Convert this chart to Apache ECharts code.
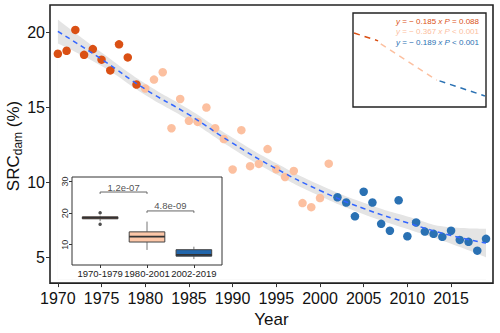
<!DOCTYPE html>
<html><head><meta charset="utf-8">
<script src="https://cdn.jsdelivr.net/npm/echarts@6/dist/echarts.min.js"></script>
<style>html,body{margin:0;padding:0;background:#fff}#c{width:500px;height:333px}</style>
</head><body><div id="c"></div>
<script>
// ---- data ----
const yearsA = [1970,1971,1972,1973,1974,1975,1976,1977,1978,1979];
const srcA   = [18.56,18.76,20.15,18.49,18.87,18.17,17.45,19.19,18.32,16.51];
const yearsB = [1980,1981,1982,1983,1984,1985,1986,1987,1988,1989,1990,1991,1992,1993,1994,1995,1996,1997,1998,1999,2000,2001];
const srcB   = [16.25,16.84,17.33,13.60,15.55,14.09,14.02,14.98,13.60,12.88,10.85,13.47,11.07,11.22,12.21,10.86,10.35,10.75,8.61,8.34,8.95,11.24];
const yearsC = [2002,2003,2004,2005,2006,2007,2008,2009,2010,2011,2012,2013,2014,2015,2016,2017,2018,2019];
const srcC   = [9.00,8.65,7.73,9.37,8.65,7.23,6.77,8.80,6.40,7.32,6.71,6.56,6.36,6.77,6.16,6.03,5.44,6.23];

const trendYears = [1970,1975,1980,1985,1990,1995,2000,2005,2010,2015,2019];
const trendMid   = [20.05,18.2,16.2,14.5,12.6,10.9,9.45,8.25,7.3,6.45,5.95];
const trendHalf  = [0.8,0.45,0.38,0.36,0.36,0.36,0.36,0.38,0.42,0.55,0.95];

const xTickLabels = [1970,1975,1980,1985,1990,1995,2000,2005,2010,2015];
const yTickLabels = [5,10,15,20];

// inset boxplot
const groupNames = ['1970-1979','1980-2001','2002-2019'];
const boxLow  = [17.45, 8.34, 5.44];
const boxQ1   = [18.21,10.85, 6.37];
const boxMed  = [18.53,12.55, 6.77];
const boxQ3   = [18.84,14.07, 8.42];
const boxHigh = [19.19,17.33, 9.37];
const outlierGroup = [1,1];
const outlierValue = [20.15,16.51];
const insetTicks = [10,20,30];
const pLabels = ['1.2e-07','4.8e-09'];
const pFrom = [1,2], pTo = [2,3], pLevel = [26.7,20.7];

// legend (segment fits)
const segYearsA = [1970,1979], segA = [19.1,17.43];
const segYearsB = [1980,2001], segB = [16.76,9.05];
const segYearsC = [2002,2019], segC = [8.9,5.7];
const eqText = [
  ['− 0.185','= 0.088'],
  ['− 0.367','< 0.001'],
  ['− 0.189','< 0.001']
];

// ---- styling ----
const FF = 'Liberation Sans, Arial, Helvetica, sans-serif';
const cA = '#DA5014', cB = '#FCC0A0', cC = '#2A71B3';
const boxFill = ['#9E3A12', '#FDC7A8', '#2166AC'];

const zip = (xs, ys) => xs.map((x, i) => [x, ys[i]]);

const chart = echarts.init(document.getElementById('c'), null, {renderer: 'svg'});
chart.setOption({
  animation: false,
  backgroundColor: '#fff',
  textStyle: {fontFamily: FF},
  grid: [
    {left: 50, top: 5, width: 443, height: 283, show: true, borderColor: '#222', borderWidth: 1.6, backgroundColor: '#fff'},
    {left: 72, top: 177, width: 150, height: 88, show: true, borderColor: '#333', borderWidth: 1, backgroundColor: '#fff', z: 5},
    {left: 353, top: 13, width: 133, height: 94, show: true, borderColor: '#222', borderWidth: 1.4, backgroundColor: '#fff', z: 5}
  ],
  xAxis: [
    {type: 'value', gridIndex: 0, min: 1969.1, max: 2019.8, splitLine: {show: false},
     axisLine: {show: false},
     axisTick: {show: true, customValues: xTickLabels, length: 4, lineStyle: {color: '#333'}},
     axisLabel: {customValues: xTickLabels, formatter: v => String(v), fontSize: 16, color: '#111', margin: 7, fontFamily: FF},
     name: 'Year', nameLocation: 'middle', nameGap: 26,
     nameTextStyle: {fontSize: 17, color: '#111', fontFamily: FF}},
    {type: 'value', gridIndex: 1, min: 0.4, max: 3.6, splitLine: {show: false}, z: 8,
     axisLine: {show: false},
     axisTick: {show: true, customValues: [1,2,3], length: 3, lineStyle: {color: '#333'}},
     axisLabel: {customValues: [1,2,3], formatter: v => groupNames[Math.round(v) - 1],
                 fontSize: 9.5, color: '#222', margin: 3, fontFamily: FF}},
    {type: 'value', gridIndex: 2, min: 1969.6, max: 2019.4, show: false}
  ],
  yAxis: [
    {type: 'value', gridIndex: 0, min: 3.28, max: 21.81, splitLine: {show: false},
     axisLine: {show: false},
     axisTick: {show: true, customValues: yTickLabels, length: 4, lineStyle: {color: '#333'}},
     axisLabel: {customValues: yTickLabels, fontSize: 16, color: '#111', margin: 5, fontFamily: FF}},
    {type: 'value', gridIndex: 1, min: 3.57, max: 31.46, splitLine: {show: false}, z: 8,
     axisLine: {show: false},
     axisTick: {show: true, customValues: insetTicks, length: 3, lineStyle: {color: '#333'}},
     axisLabel: {customValues: insetTicks, rotate: 90, fontSize: 9, color: '#333', margin: 3, fontFamily: FF}},
    {type: 'value', gridIndex: 2, min: 3.34, max: 23.36, show: false}
  ],
  series: [
    // confidence band: upper edge filled grey, lower edge filled white
    {type: 'line', xAxisIndex: 0, yAxisIndex: 0, smooth: true, symbol: 'none', silent: true,
     lineStyle: {width: 0, opacity: 0}, areaStyle: {color: '#E4E4E4', opacity: 1, origin: 3.5},
     data: zip(trendYears, trendMid.map((m, i) => m + trendHalf[i])), z: 1},
    {type: 'line', xAxisIndex: 0, yAxisIndex: 0, smooth: true, symbol: 'none', silent: true,
     lineStyle: {width: 0, opacity: 0}, areaStyle: {color: '#FFFFFF', opacity: 1, origin: 3.5},
     data: zip(trendYears, trendMid.map((m, i) => m - trendHalf[i])), z: 1},
    {type: 'scatter', xAxisIndex: 0, yAxisIndex: 0, symbolSize: 8.5, itemStyle: {color: cA, opacity: 1}, data: zip(yearsA, srcA), z: 3},
    {type: 'scatter', xAxisIndex: 0, yAxisIndex: 0, symbolSize: 8.5, itemStyle: {color: cB, opacity: 1}, data: zip(yearsB, srcB), z: 3},
    {type: 'scatter', xAxisIndex: 0, yAxisIndex: 0, symbolSize: 8.5, itemStyle: {color: cC, opacity: 1}, data: zip(yearsC, srcC), z: 3},
    {type: 'line', xAxisIndex: 0, yAxisIndex: 0, smooth: true, symbol: 'none',
     lineStyle: {color: '#3366FF', width: 1.5, type: [5, 4]}, data: zip(trendYears, trendMid), z: 4},
    // inset boxplot
    {type: 'custom', xAxisIndex: 1, yAxisIndex: 1, z: 10,
     data: groupNames.map((g, i) => [i + 1, boxLow[i], boxQ1[i], boxMed[i], boxQ3[i], boxHigh[i]]),
     renderItem: function (params, api) {
       const x = api.value(0);
       const pLo = api.coord([x, api.value(1)]), pQ1 = api.coord([x, api.value(2)]),
             pMd = api.coord([x, api.value(3)]), pQ3 = api.coord([x, api.value(4)]),
             pHi = api.coord([x, api.value(5)]);
       const half = api.size([0.76, 0])[0] / 2;
       return {type: 'group', children: [
         {type: 'line', shape: {x1: pHi[0], y1: pHi[1], x2: pQ3[0], y2: pQ3[1]}, style: {stroke: '#777', lineWidth: 1}},
         {type: 'line', shape: {x1: pQ1[0], y1: pQ1[1], x2: pLo[0], y2: pLo[1]}, style: {stroke: '#777', lineWidth: 1}},
         {type: 'rect', shape: {x: pQ1[0] - half, y: pQ3[1], width: 2 * half, height: pQ1[1] - pQ3[1]},
          style: {fill: boxFill[params.dataIndex], stroke: '#444', lineWidth: 1}},
         {type: 'line', shape: {x1: pMd[0] - half, y1: pMd[1], x2: pMd[0] + half, y2: pMd[1]}, style: {stroke: '#333', lineWidth: 1.6}}
       ]};
     }},
    {type: 'scatter', xAxisIndex: 1, yAxisIndex: 1, symbolSize: 3.5, itemStyle: {color: '#222'},
     data: zip(outlierGroup, outlierValue), z: 11},
    // significance brackets
    ...pLabels.map((lab, k) => ({
      type: 'line', xAxisIndex: 1, yAxisIndex: 1, symbol: 'none', z: 10,
      lineStyle: {color: '#666', width: 1},
      data: [[pFrom[k], pLevel[k] - 0.6], [pFrom[k], pLevel[k]], [pTo[k], pLevel[k]], [pTo[k], pLevel[k] - 0.6]]
    })),
    {type: 'scatter', xAxisIndex: 1, yAxisIndex: 1, symbolSize: 0, z: 11,
     data: pLabels.map((lab, k) => ({name: lab, value: [(pFrom[k] + pTo[k]) / 2, pLevel[k]]})),
     label: {show: true, position: 'top', distance: 0, formatter: p => p.name, fontSize: 9.5, color: '#222', fontFamily: FF}},
    // legend segment lines
    {type: 'line', xAxisIndex: 2, yAxisIndex: 2, symbol: 'none', z: 10, lineStyle: {color: cA, width: 1.5, type: [6, 5]}, data: zip(segYearsA, segA)},
    {type: 'line', xAxisIndex: 2, yAxisIndex: 2, symbol: 'none', z: 10, lineStyle: {color: cB, width: 1.5, type: [6, 5]}, data: zip(segYearsB, segB)},
    {type: 'line', xAxisIndex: 2, yAxisIndex: 2, symbol: 'none', z: 10, lineStyle: {color: cC, width: 1.5, type: [6, 5]}, data: zip(segYearsC, segC)}
  ],
  graphic: [
    {type: 'text', x: 13, y: 146, rotation: Math.PI / 2, z: 20,
     style: {text: '{a|SRC}{b|dam}{a| (%)}', align: 'center', verticalAlign: 'middle', fill: '#111',
       rich: {a: {fontSize: 17, lineHeight: 22, fontFamily: FF, fill: '#111'},
              b: {fontSize: 12, lineHeight: 12, verticalAlign: 'bottom', fontFamily: FF, fill: '#111'}}}},
    ...eqText.map((t, i) => ({
      type: 'text', right: 21, top: 17 + i * 10.5, z: 20,
      style: {
        text: '{i|y} = ' + t[0] + ' {i|x} {i|P} ' + t[1],
        fill: [cA, cB, cC][i], fontSize: 8, fontFamily: FF,
        rich: {i: {fontStyle: 'italic', fontSize: 8, fontFamily: FF, fill: [cA, cB, cC][i]}}
      }
    }))
  ]
});
</script>
</body></html>
